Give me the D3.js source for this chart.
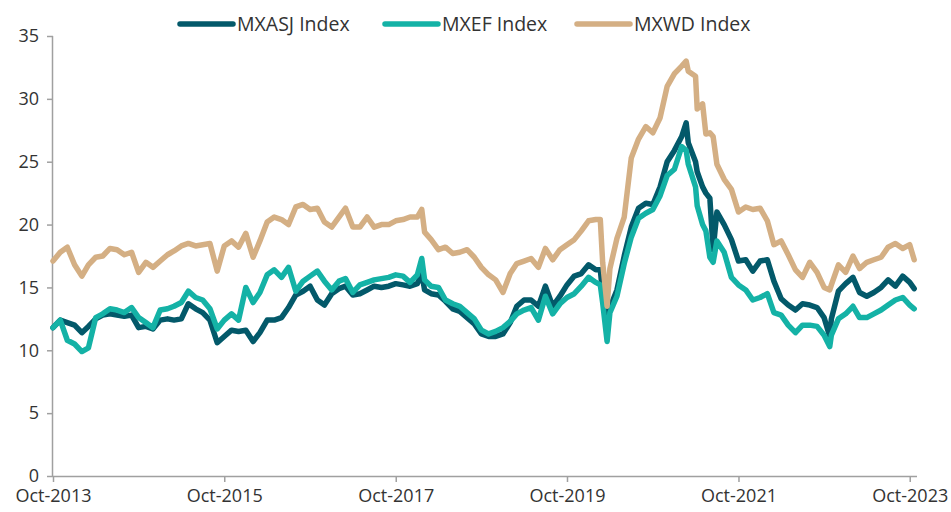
<!DOCTYPE html>
<html>
  <head>
    <meta charset="utf-8">
    <script src="https://d3js.org/d3.v7.min.js"></script>
    <style>
      body {
        margin: 0;
        background: #fff;
        font-family: "Open Sans", sans-serif;
      }
      .tick text {
        fill: #333;
        font-size: 18px;
      }
      .legend text {
        fill: #333;
        font-size: 19.5px;
      }
    </style>
  </head>
  <body>
    <svg id="chart" width="951" height="512"></svg>
    <script>
      const dates = [
        '2013-10-01','2013-11-01','2013-12-01','2014-01-01','2014-02-01','2014-03-01','2014-04-01','2014-05-01','2014-06-01','2014-07-01','2014-08-01','2014-09-01',
        '2014-10-01','2014-11-01','2014-12-01','2015-01-01','2015-02-01','2015-03-01','2015-04-01','2015-05-01','2015-06-01','2015-07-01','2015-08-01','2015-09-01',
        '2015-10-01','2015-11-01','2015-12-01','2016-01-01','2016-02-01','2016-03-01','2016-04-01','2016-05-01','2016-06-01','2016-07-01','2016-08-01','2016-09-01',
        '2016-10-01','2016-11-01','2016-12-01','2017-01-01','2017-02-01','2017-03-01','2017-04-01','2017-05-01','2017-06-01','2017-07-01','2017-08-01','2017-09-01',
        '2017-10-01','2017-11-01','2017-12-01','2018-01-01','2018-01-20','2018-02-01','2018-03-01','2018-04-01','2018-05-01','2018-06-01','2018-07-01','2018-08-01','2018-09-01',
        '2018-10-01','2018-11-01','2018-12-01','2019-01-01','2019-02-01','2019-03-01','2019-04-01','2019-05-01','2019-06-01','2019-07-01','2019-08-01','2019-09-01',
        '2019-10-01','2019-11-01','2019-12-01','2020-01-01','2020-02-01','2020-02-20','2020-03-01','2020-03-20','2020-04-01','2020-05-01','2020-06-01','2020-07-01','2020-08-01','2020-09-01',
        '2020-10-01','2020-11-01','2020-12-01','2021-01-01','2021-02-01','2021-02-20','2021-03-01','2021-04-01','2021-04-08','2021-05-01','2021-05-15','2021-06-01','2021-06-15','2021-07-01','2021-08-01','2021-09-01',
        '2021-10-01','2021-11-01','2021-12-01','2022-01-01','2022-02-01','2022-03-01','2022-04-01','2022-05-01','2022-06-01','2022-07-01','2022-08-01','2022-09-01',
        '2022-10-01','2022-10-25','2022-11-01','2022-12-01','2023-01-01','2023-02-01','2023-03-01','2023-04-01','2023-05-01','2023-06-01','2023-07-01','2023-08-01','2023-09-01',
        '2023-10-01','2023-10-20'
      ];

      const mxasj = [
        11.8,12.4,12.2,12.0,11.4,11.9,12.5,12.8,12.9,12.8,12.7,12.8,
        11.8,11.9,11.7,12.4,12.5,12.4,12.5,13.7,13.3,13.0,12.4,10.6,
        11.1,11.6,11.5,11.6,10.7,11.4,12.4,12.4,12.6,13.4,14.4,14.7,
        15.1,14.0,13.6,14.5,14.9,15.1,14.4,14.5,14.8,15.1,15.0,15.1,
        15.3,15.2,15.1,15.3,16.1,14.8,14.5,14.4,13.9,13.3,13.1,12.6,12.1,
        11.3,11.1,11.1,11.3,12.2,13.5,14.0,14.0,13.5,15.1,13.5,14.3,
        15.2,15.9,16.1,16.8,16.4,16.4,14.5,12.0,13.4,14.8,17.5,19.8,21.3,21.7,
        21.6,23.0,25.0,25.9,27.0,28.1,26.5,25.0,24.2,23.0,22.5,22.1,18.0,21.0,20.0,18.8,
        17.1,17.2,16.3,17.1,17.2,15.5,14.1,13.6,13.2,13.7,13.6,13.4,
        12.6,11.1,12.5,14.7,15.3,15.8,14.6,14.3,14.6,15.0,15.6,15.1,15.9,
        15.4,14.9
      ];

      const mxef = [
        11.8,12.4,10.8,10.5,9.9,10.2,12.6,12.9,13.3,13.2,13.0,13.4,
        12.6,12.2,11.8,13.2,13.3,13.5,13.8,14.7,14.2,14.0,13.3,11.7,
        12.4,12.9,12.4,15.0,13.8,14.6,16.0,16.4,15.8,16.6,14.7,15.5,
        15.9,16.3,15.5,14.8,15.5,15.7,14.6,15.2,15.4,15.6,15.7,15.8,
        16.0,15.9,15.4,16.0,17.3,15.6,15.1,15.0,14.0,13.7,13.5,13.0,12.5,
        11.6,11.3,11.5,11.8,12.3,12.9,13.2,13.4,12.4,14.3,12.9,13.7,
        14.2,14.5,15.1,15.8,15.4,15.2,13.8,10.7,13.0,14.3,16.9,19.0,20.5,20.9,
        21.2,22.3,23.9,24.4,26.2,25.9,24.8,23.0,21.5,20.0,19.5,17.4,17.0,18.7,17.8,15.8,
        15.2,14.8,14.0,14.2,14.5,13.0,12.8,12.0,11.4,12.0,12.0,11.9,
        11.2,10.3,11.2,12.5,12.9,13.5,12.6,12.6,12.9,13.2,13.6,14.0,14.2,
        13.6,13.3
      ];

      const mxwd = [
        17.1,17.8,18.2,16.8,15.9,16.8,17.4,17.5,18.1,18.0,17.6,17.8,
        16.2,17.0,16.6,17.1,17.6,17.9,18.3,18.5,18.3,18.4,18.5,16.3,
        18.3,18.7,18.2,19.3,17.4,18.7,20.2,20.6,20.4,20.0,21.4,21.6,
        21.2,21.3,20.2,19.8,20.6,21.3,19.8,19.8,20.6,19.8,20.0,20.0,
        20.3,20.4,20.6,20.6,21.2,19.4,18.8,18.0,18.2,17.7,17.8,18.0,17.4,
        16.6,16.0,15.6,14.6,16.1,16.9,17.1,17.3,16.6,18.1,17.2,18.0,
        18.4,18.8,19.5,20.3,20.4,20.4,17.0,13.5,16.5,18.9,20.6,25.3,26.8,27.8,
        27.3,28.5,31.0,32.0,32.6,33.0,32.2,31.8,29.2,29.6,27.2,27.3,27.0,24.8,23.6,22.8,
        21.0,21.4,21.2,21.3,20.3,18.4,18.7,17.6,16.4,15.8,17.0,16.2,
        15.0,14.8,15.2,16.8,16.2,17.5,16.5,17.0,17.2,17.4,18.2,18.5,18.1,
        18.4,17.2
      ];

      const seriesNames = ['MXASJ Index', 'MXEF Index', 'MXWD Index'];
      const seriesColors = ['#03596a', '#14b2a6', '#d4af84'];
      const yTicks = [0, 5, 10, 15, 20, 25, 30, 35];
      const xTicks = ['2013-10-01', '2015-10-01', '2017-10-01', '2019-10-01', '2021-10-01', '2023-10-01'];

      const parse = d3.timeParse('%Y-%m-%d');
      const series = [mxasj, mxef, mxwd].map((vals, i) => ({
        name: seriesNames[i],
        color: seriesColors[i],
        values: vals.map((v, j) => ({ date: parse(dates[j]), value: v }))
      }));

      const svg = d3.select('#chart');
      const margin = { left: 53, right: 34, top: 36, bottom: 36 };
      const width = +svg.attr('width');
      const height = +svg.attr('height');

      const xScale = d3.scaleTime()
        .domain([parse('2013-10-01'), parse('2023-11-01')])
        .range([margin.left, width - margin.right]);
      const yScale = d3.scaleLinear()
        .domain([0, 35])
        .range([height - margin.bottom, margin.top]);

      const line = d3.line()
        .x(d => xScale(d.date))
        .y(d => yScale(d.value));

      // axes
      const yAxisG = svg.append('g')
        .attr('transform', `translate(${margin.left},0)`)
        .call(d3.axisLeft(yScale).tickValues(yTicks).tickSize(6).tickPadding(8));
      const xAxisG = svg.append('g')
        .attr('transform', `translate(0,${height - margin.bottom})`)
        .call(d3.axisBottom(xScale)
          .tickValues(xTicks.map(parse))
          .tickFormat(d3.timeFormat('%b-%Y'))
          .tickSize(6).tickPadding(7));
      svg.selectAll('.domain, .tick line')
        .attr('stroke', '#a0a0a0')
        .attr('stroke-width', 1.5);
      yAxisG.select('.domain').attr('d', `M-0.5,${margin.top}V${height - margin.bottom}`);
      xAxisG.select('.domain').attr('d', `M${margin.left},0.5H${width - margin.right}`);
      svg.selectAll('.tick text').attr('font-family', '"Open Sans", sans-serif');

      svg.append('g').selectAll('path')
        .data(series)
        .join('path')
          .attr('fill', 'none')
          .attr('stroke', d => d.color)
          .attr('stroke-width', 5.5)
          .attr('stroke-linejoin', 'round')
          .attr('stroke-linecap', 'round')
          .attr('d', d => line(d.values));

      // legend
      const legendX = [180, 385, 577];
      const legend = svg.append('g').attr('class', 'legend')
        .selectAll('g')
        .data(series)
        .join('g')
          .attr('transform', (d, i) => `translate(${legendX[i]},24)`);
      legend.append('line')
        .attr('x1', 0).attr('x2', 53)
        .attr('stroke', d => d.color)
        .attr('stroke-width', 5.5)
        .attr('stroke-linecap', 'round');
      legend.append('text')
        .attr('x', 57)
        .attr('y', 7)
        .text(d => d.name);
    </script>
  </body>
</html>
